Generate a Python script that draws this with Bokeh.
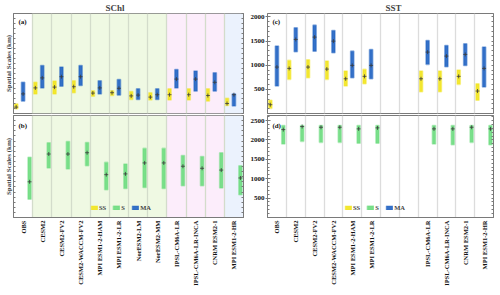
import numpy as np
from bokeh.plotting import figure
from bokeh.models import (ColumnDataSource, FixedTicker, LinearAxis, Range1d, Label,
                          Legend, LegendItem, BoxAnnotation)
from bokeh.layouts import gridplot
from bokeh.embed import file_html
from bokeh.resources import INLINE

# ---------------- data ----------------
models = ["OBS", "CESM2", "CESM2-FV2", "CESM2-WACCM-FV2", "MPI ESM1-2-HAM", "MPI ESM1-2-LR",
          "NorESM2-LM", "NorESM2-MM", "IPSL-CM6A-LR", "IPSL-CM6A-LR-INCA", "CNRM ESM2-1",
          "MPI ESM1-2-HR"]
bg_group = ["none", "g", "g", "g", "g", "g", "g", "g", "p", "p", "p", "b"]

# SChl (km): low / median / high
schl_ss_lo = [12, 49, 49, 52, 43, 45, 35, 34, 34, 34, 31, 20]
schl_ss_md = [16, 64, 66, 67, 51, 52, 44, 41, 47, 47, 45, 25]
schl_ss_hi = [24, 78, 81, 82, 57, 57, 55, 52, 62, 62, 62, 38]
schl_ma_lo = [31, 64, 68, 70, 49, 46, 35, 35, 64, 56, 56, 19]
schl_ma_md = [49, 89, 92, 92, 64, 63, 46, 47, 86, 86, 78, 47]
schl_ma_hi = [78, 120, 116, 120, 82, 85, 62, 62, 110, 106, 102, 49]
schl_s_lo = [72, 194, 190, 203, 109, 114, 118, 114, 125, 125, 116, 89]
schl_s_md = [140, 249, 249, 254, 168, 171, 214, 214, 201, 193, 186, 155]
schl_s_hi = [236, 293, 298, 294, 216, 210, 271, 271, 243, 239, 254, 203]

# SST (km): low / median / high (None = model not available)
sst_ss_lo = [107, 707, 740, 707, 568, 616, None, None, 450, 450, 603, 273]
sst_ss_md = [182, 934, 961, 919, 719, 769, None, None, 719, 719, 769, 465]
sst_ss_hi = [273, 1099, 1112, 1085, 878, 913, None, None, 878, 878, 899, 616]
sst_ma_lo = [568, 1277, 1291, 1256, 740, 719, None, None, 1017, 967, 996, 548]
sst_ma_md = [961, 1533, 1581, 1498, 996, 996, None, None, 1271, 1188, 1223, 934]
sst_ma_hi = [1395, 1773, 1829, 1719, 1291, 1326, None, None, 1512, 1409, 1442, 1374]
sst_s_lo = [1897, 1964, 1938, 1938, 1913, 1913, None, None, 1897, 1879, 1938, 1879]
sst_s_md = [2267, 2345, 2327, 2327, 2285, 2311, None, None, 2285, 2285, 2327, 2285]
sst_s_hi = [2371, 2371, 2371, 2371, 2371, 2371, None, None, 2371, 2371, 2371, 2371]

sst_c_ticks = [500, 1000, 1500, 2000]
sst_d_ticks = [500, 1000, 1500, 2000, 2500]

# ---------------- style ----------------
FONT = "Liberation Serif"
C_SS = "#f2e41c"
C_S = "#6cdc7e"
C_MA = "#1f62c2"
BG_COL = {"g": "#eff9e3", "p": "#fcedfb", "b": "#ebf2fd"}
AX_COL = "#7a7a7a"
idx = list(range(len(models)))


def base_fig(width, height, ymax, mbl, mbr, mbt, mbb, grid_color, bg):
    p = figure(width=width, height=height, x_range=Range1d(-0.5, len(models) - 0.5),
               y_range=Range1d(0, ymax), output_backend="svg", toolbar_location=None,
               min_border_left=mbl, min_border_right=mbr, min_border_top=mbt,
               min_border_bottom=mbb)
    p.outline_line_color = AX_COL
    p.ygrid.visible = False
    p.xgrid.ticker = FixedTicker(ticks=[i + 0.5 for i in range(len(models) - 1)])
    p.xgrid.grid_line_color = grid_color
    p.xgrid.grid_line_width = 1.3
    p.xgrid.level = "glyph"
    if bg:
        start = 0
        for i in range(1, len(bg_group) + 1):
            if i == len(bg_group) or bg_group[i] != bg_group[start]:
                g = bg_group[start]
                if g in BG_COL:
                    p.add_layout(BoxAnnotation(left=start - 0.5, right=i - 0.5,
                                               fill_color=BG_COL[g], fill_alpha=1.0,
                                               line_color=None, level="underlay"))
                start = i
    return p


def style_axis_lines(ax):
    ax.axis_line_color = AX_COL
    ax.major_tick_line_color = AX_COL
    ax.minor_tick_line_color = AX_COL


def style_y_labelled(ax, ticks):
    ax.ticker = FixedTicker(ticks=ticks, minor_ticks=list(range(0, 3000, 100)))
    style_axis_lines(ax)
    ax.major_tick_in = 3
    ax.major_tick_out = 2
    ax.minor_tick_in = 2
    ax.minor_tick_out = 0
    ax.major_label_text_font = FONT
    ax.major_label_text_font_size = "7px"
    ax.major_label_text_font_style = "bold"
    ax.major_label_text_color = "#111111"
    ax.major_label_standoff = 1


def style_y_bare(ax, step, ymax):
    # only small inward ticks, no tick labels
    ax.ticker = FixedTicker(ticks=[], minor_ticks=list(np.arange(0, ymax + 0.1, step)))
    style_axis_lines(ax)
    ax.minor_tick_in = 2
    ax.minor_tick_out = 0


def add_right_axis(p, step, ymax):
    ax = LinearAxis()
    style_y_bare(ax, step, ymax)
    p.add_layout(ax, "right")


def set_ylabel(p):
    ax = p.yaxis[0]
    ax.axis_label = "Spatial Scales (km)"
    ax.axis_label_text_font = FONT
    ax.axis_label_text_font_size = "7px"
    ax.axis_label_text_font_style = "bold"
    ax.axis_label_standoff = 1


def style_x(p, present):
    ax = p.xaxis[0]
    ax.ticker = FixedTicker(ticks=present)
    ax.major_label_overrides = {i: models[i] for i in present}
    ax.major_label_orientation = np.pi / 2
    ax.major_label_text_font = FONT
    ax.major_label_text_font_size = "6.5px"
    ax.major_label_text_font_style = "bold"
    ax.major_label_text_color = "#111111"
    ax.major_label_standoff = 3
    ax.major_tick_in = 0
    ax.major_tick_out = 0
    ax.minor_tick_line_color = None
    ax.axis_line_color = AX_COL


def add_bars(p, lo, md, hi, offset, color, width=0.17):
    keep = [i for i in idx if lo[i] is not None]
    src = ColumnDataSource(dict(x=[idx[i] + offset for i in keep],
                                lo=[lo[i] for i in keep],
                                md=[md[i] for i in keep],
                                hi=[hi[i] for i in keep]))
    r = p.vbar(x="x", bottom="lo", top="hi", width=width, source=src, fill_color=color,
               fill_alpha=0.9, line_color=color, line_alpha=0.45, line_width=1.6)
    p.scatter(x="x", y="md", source=src, marker="cross", size=4, line_color="#3a3a3a",
              line_width=0.8)
    return r


def legend_proxy(p, color):
    # a renderer with no visible data, used only for its legend swatch
    return p.vbar(x=[np.nan], top=[np.nan], bottom=[np.nan], width=0.17, fill_color=color,
                  fill_alpha=0.9, line_color=color, line_alpha=0.45, line_width=1.2)


def add_legend(p, r_s):
    r_ss = legend_proxy(p, C_SS)
    r_ma = legend_proxy(p, C_MA)
    leg = Legend(items=[LegendItem(label="SS", renderers=[r_ss]),
                        LegendItem(label="S", renderers=[r_s]),
                        LegendItem(label="MA", renderers=[r_ma])],
                 orientation="horizontal", location=(77, 6), background_fill_alpha=0,
                 border_line_color=None, padding=0, margin=0, spacing=6, glyph_width=8,
                 glyph_height=5, label_height=6, label_width=4, label_standoff=1,
                 label_text_font=FONT, label_text_font_size="6.5px",
                 label_text_font_style="bold", label_text_baseline="middle")
    p.add_layout(leg)


def panel_letter(p, text, ymax, frac):
    p.add_layout(Label(x=-0.24, y=ymax * frac, text=text, text_font=FONT,
                       text_font_size="7px", text_font_style="bold",
                       text_baseline="middle", text_color="#111111"))


def set_title(p, text, offset):
    p.title.text = text
    p.title.text_font = FONT
    p.title.text_font_size = "9px"
    p.title.text_font_style = "bold"
    p.title.align = "left"
    p.title.offset = offset
    p.title.standoff = 1


# ---------------- panels ----------------
YA, YB, YC, YD = 250, 400, 2070, 2630
LW, RW = 247, 252
TH, BH = 114, 180

pa = base_fig(LW, TH, YA, 13, 4, 13, 1, "#d3dccb", True)
set_title(pa, "SChl", 92)
style_y_bare(pa.yaxis[0], 12.5, YA)
set_ylabel(pa)
add_right_axis(pa, 12.5, YA)
pa.xaxis.visible = False
add_bars(pa, schl_ss_lo, schl_ss_md, schl_ss_hi, -0.36, C_SS)
add_bars(pa, schl_ma_lo, schl_ma_md, schl_ma_hi, 0.0, C_MA)
panel_letter(pa, "(a)", YA, 0.92)

pb = base_fig(LW, BH, YB, 13, 4, 1, 77, "#d3dccb", True)
style_y_bare(pb.yaxis[0], 20, YB)
set_ylabel(pb)
add_right_axis(pb, 20, YB)
style_x(pb, idx)
r_sb = add_bars(pb, schl_s_lo, schl_s_md, schl_s_hi, 0.34, C_S)
add_legend(pb, r_sb)
panel_letter(pb, "(b)", YB, 0.9)

present = [i for i in idx if sst_ss_lo[i] is not None]

pc = base_fig(RW, TH, YC, 17, 6, 13, 1, "#dcdcdc", False)
set_title(pc, "SST", 118)
style_y_labelled(pc.yaxis[0], sst_c_ticks)
add_right_axis(pc, 100, YC)
pc.xaxis.visible = False
add_bars(pc, sst_ss_lo, sst_ss_md, sst_ss_hi, -0.35, C_SS)
add_bars(pc, sst_ma_lo, sst_ma_md, sst_ma_hi, 0.0, C_MA)
panel_letter(pc, "(c)", YC, 0.92)

pd_ = base_fig(RW, BH, YD, 17, 6, 1, 77, "#dcdcdc", False)
style_y_labelled(pd_.yaxis[0], sst_d_ticks)
add_right_axis(pd_, 100, YD)
style_x(pd_, present)
r_sd = add_bars(pd_, sst_s_lo, sst_s_md, sst_s_hi, 0.34, C_S)
add_legend(pd_, r_sd)
panel_letter(pd_, "(d)", YD, 0.9)

grid = gridplot([[pa, pc], [pb, pd_]], toolbar_location=None)

open("out.html", "w").write(file_html(grid, INLINE))
